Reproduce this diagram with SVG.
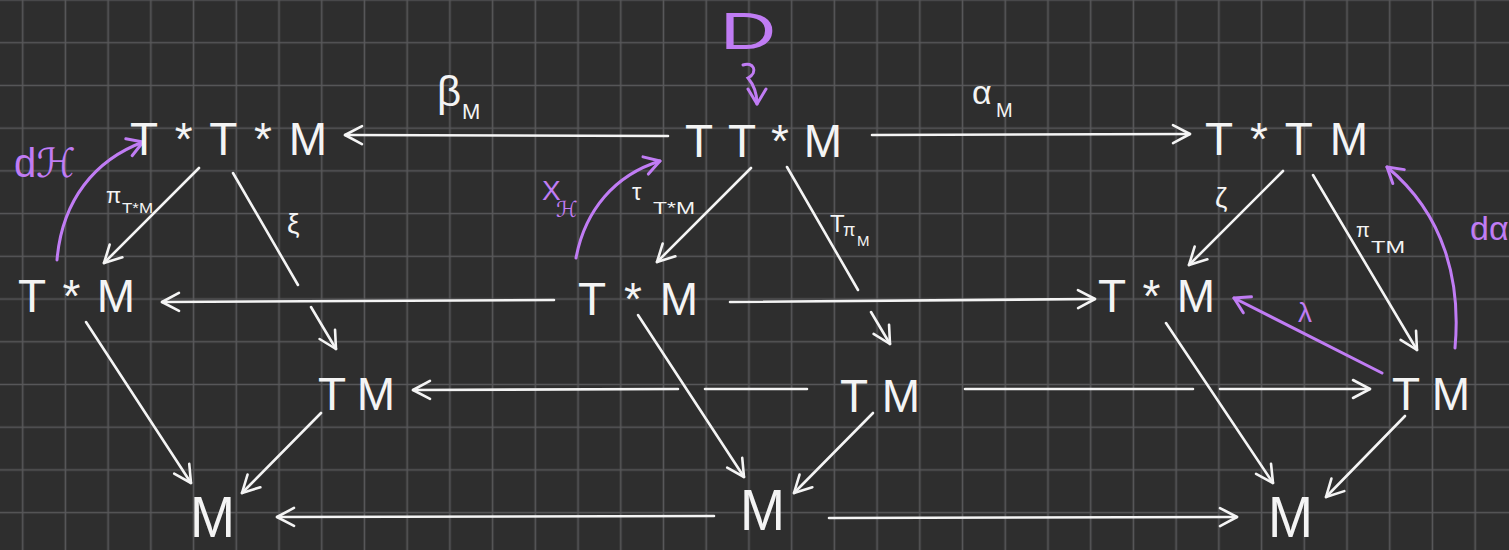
<svg xmlns="http://www.w3.org/2000/svg" width="1509" height="550" viewBox="0 0 1509 550">
<defs>
<pattern id="grid" patternUnits="userSpaceOnUse" x="1.34" y="-21.36" width="42.72" height="42.72">
<path d="M21.36 0 V42.72 M0 21.36 H42.72" stroke="#58585a" stroke-width="1.6" fill="none"/>
</pattern>
<marker id="aw" markerUnits="userSpaceOnUse" viewBox="-20 -12 24 24" refX="0" refY="0" markerWidth="24" markerHeight="24" orient="auto">
<path d="M-17 -9 L0 0 L-17 9" fill="none" stroke="#f4f4f4" stroke-width="2.6" stroke-linecap="round" stroke-linejoin="round"/>
</marker>
<marker id="ap" markerUnits="userSpaceOnUse" viewBox="-20 -12 24 24" refX="0" refY="0" markerWidth="24" markerHeight="24" orient="auto">
<path d="M-15 -9 L0 0 L-15 9" fill="none" stroke="#c07cf4" stroke-width="3" stroke-linecap="round" stroke-linejoin="round"/>
</marker>
</defs>
<style>
.n{font-family:"Liberation Sans","DejaVu Sans",sans-serif;fill:#f4f4f4;font-size:46px}
.m{font-family:"Liberation Sans","DejaVu Sans",sans-serif;fill:#f4f4f4;font-size:58px}
.l{font-family:"Liberation Sans","DejaVu Sans",sans-serif;fill:#f4f4f4}
.p{font-family:"Liberation Sans","DejaVu Sans",sans-serif;fill:#c07cf4}
.w{fill:none;stroke:#f4f4f4;stroke-width:2.6;stroke-linecap:round;marker-end:url(#aw)}
.pc{fill:none;stroke:#c07cf4;stroke-width:3;stroke-linecap:round;marker-end:url(#ap)}
</style>
<rect width="1509" height="550" fill="#2e2e2e"/>
<rect width="1509" height="550" fill="url(#grid)"/>

<g id="connectors">
<path class="w" d="M668 136 L345 135"/>
<path class="w" d="M872 135 L1190 134"/>
<path class="w" d="M199 168 L104 263"/>
<path class="w" d="M233 173 L298 285 M311 307 L336 349"/>
<path class="w" d="M554 300 L162 302"/>
<path class="w" d="M86 322 L191 483"/>
<path class="w" d="M321 413 L242 493"/>
<path class="w" d="M807 389 L705 389 M678 389 L413 390"/>
<path class="w" d="M714 516 L277 517"/>
<path class="w" d="M751 168 L657 262"/>
<path class="w" d="M787 167 L858 290 M871 312 L890 344"/>
<path class="w" d="M730 302 L1095 299"/>
<path class="w" d="M638 315 L744 477"/>
<path class="w" d="M873 413 L794 493"/>
<path class="w" d="M829 518 L1237 517"/>
<path class="w" d="M1283 171 L1189 265"/>
<path class="w" d="M1313 175 L1417 350"/>
<path class="w" d="M965 389 L1193 389 M1220 389 L1370 389"/>
<path class="w" d="M1166 323 L1273 483"/>
<path class="w" d="M1405 416 L1326 497"/>
<path class="pc" d="M1382 373 L1234 298"/>
<path class="pc" d="M1455 348 C1461 282 1445 215 1387 167"/>
<path class="pc" d="M57 260 C62 200 95 160 143 142"/>
<path class="pc" d="M576 258 C585 210 615 175 660 161"/>
<path class="pc" d="M743 65 C753 61 759 72 748 78 C754 85 757 95 757 104"/>
</g>

<g id="labels">
<text class="l" x="437" y="106" font-size="42">β</text>
<text class="l" x="462" y="119" font-size="22">M</text>
<text class="l" x="972" y="104" font-size="34">α</text>
<text class="l" x="996" y="117" font-size="20">M</text>
<text class="l" x="106" y="203" font-size="22">π</text>
<text class="l" x="122" y="213" font-size="14" textLength="31" lengthAdjust="spacingAndGlyphs">T*M</text>
<text class="l" x="287" y="233" font-size="28">ξ</text>
<text class="l" x="632" y="200" font-size="24">τ</text>
<text class="l" x="653" y="214" font-size="16" textLength="42" lengthAdjust="spacingAndGlyphs">T*M</text>
<text class="l" x="830" y="232" font-size="24">T</text>
<text class="l" x="843" y="236" font-size="18">π</text>
<text class="l" x="857" y="246" font-size="15">M</text>
<text class="l" x="1215" y="207" font-size="28">ζ</text>
<text class="l" x="1356" y="237" font-size="20">π</text>
<text class="l" x="1371" y="253" font-size="17" textLength="34" lengthAdjust="spacingAndGlyphs">TM</text>
<text class="p" x="1298" y="322" font-size="28">λ</text>
<text class="p" x="1470" y="240" font-size="34">dα</text>
<text class="p" x="14" y="177" font-size="40">d</text>
<text class="p" x="36" y="177" font-size="40">ℋ</text>
<text class="p" x="542" y="200" font-size="28">X</text>
<text class="p" x="556" y="217" font-size="22">ℋ</text>
<text class="p" x="720" y="49" font-size="52" textLength="56" lengthAdjust="spacingAndGlyphs">D</text>
</g>

<g id="node-TstarTstarM"><text class="n" x="130" y="155" textLength="197" lengthAdjust="spacing">T*T*M</text></g>
<g id="node-TTstarM"><text class="n" x="685" y="157" textLength="157" lengthAdjust="spacing">TT*M</text></g>
<g id="node-TstarTM"><text class="n" x="1205" y="155" textLength="163" lengthAdjust="spacing">T*TM</text></g>
<g id="node-TstarM-left"><text class="n" x="18" y="312" textLength="117" lengthAdjust="spacing">T*M</text></g>
<g id="node-TstarM-mid"><text class="n" x="578" y="315" textLength="120" lengthAdjust="spacing">T*M</text></g>
<g id="node-TstarM-right"><text class="n" x="1098" y="312" textLength="117" lengthAdjust="spacing">T*M</text></g>
<g id="node-TM-left"><text class="n" x="318" y="410" textLength="77" lengthAdjust="spacing">TM</text></g>
<g id="node-TM-mid"><text class="n" x="840" y="412" textLength="80" lengthAdjust="spacing">TM</text></g>
<g id="node-TM-right"><text class="n" x="1392" y="410" textLength="78" lengthAdjust="spacing">TM</text></g>
<g id="node-M-left"><text class="m" x="190" y="537" textLength="45" lengthAdjust="spacingAndGlyphs">M</text></g>
<g id="node-M-mid"><text class="m" x="740" y="530" textLength="45" lengthAdjust="spacingAndGlyphs">M</text></g>
<g id="node-M-right"><text class="m" x="1268" y="537" textLength="45" lengthAdjust="spacingAndGlyphs">M</text></g>
</svg>
